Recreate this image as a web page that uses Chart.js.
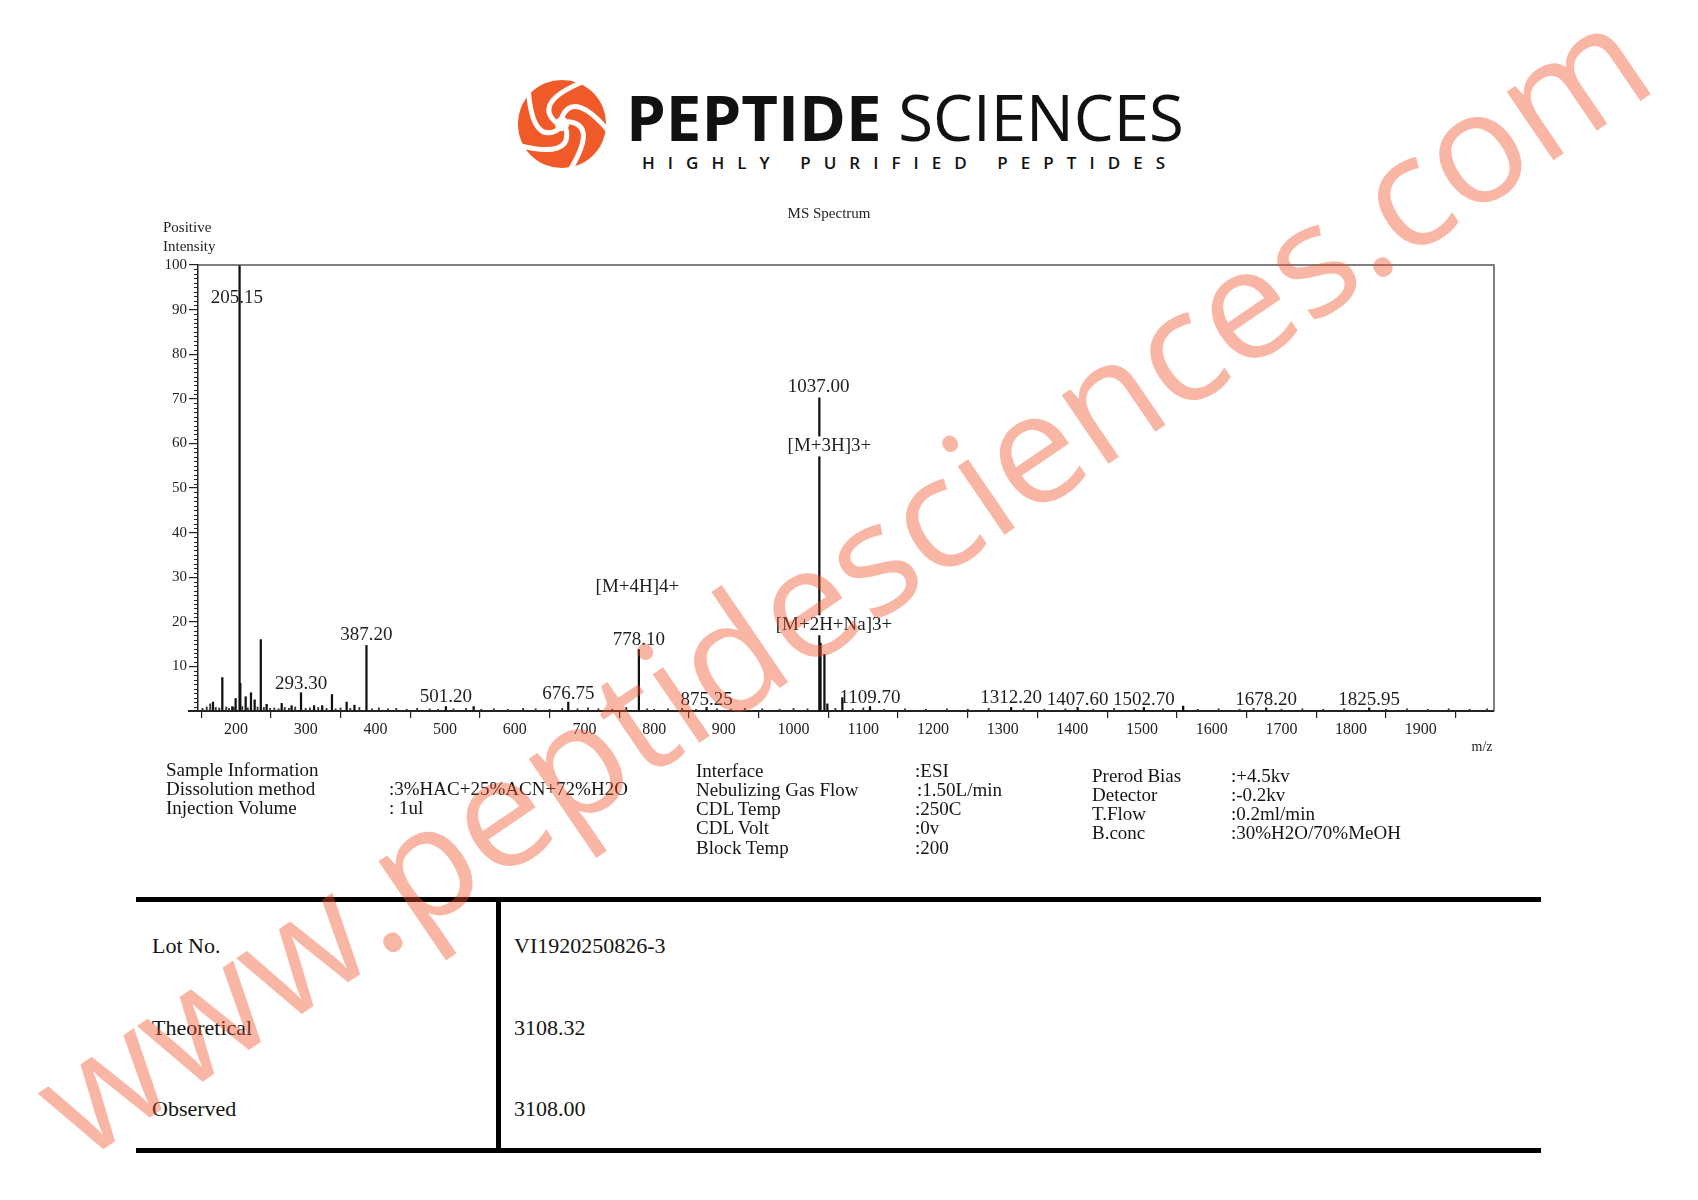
<!DOCTYPE html>
<html>
<head>
<meta charset="utf-8">
<script src="https://cdn.jsdelivr.net/npm/chart.js@4.4.1/dist/chart.umd.min.js"></script>
<style>
  html, body { margin: 0; padding: 0; background: #fff; }
  body { width: 1698px; height: 1200px; position: relative; overflow: hidden; }
  .t { position: absolute; white-space: pre; font-family: 'Liberation Serif', 'Times New Roman', serif; color: #151515; line-height: 20px; }
  .info { font-size: 19px; }
  .tab { font-size: 22px; line-height: 22px; }
  .rule { position: absolute; background: #000; }
  #wm { position: absolute; left: 848px; top: 590px; transform-origin: 0 0;
        transform: rotate(-34.3deg) translate(-50%, -50%) translateY(-18px);
        font-family: 'Open Sans', sans-serif; font-size: 155px; line-height: 155px;
        color: rgba(240, 80, 40, 0.42); white-space: pre; pointer-events: none; z-index: 10; }
</style>
</head>
<body>

<!-- logo -->
<svg style="position:absolute;left:517px;top:79px" width="90" height="90" viewBox="0 0 100 100">
  <circle cx="50" cy="50" r="49" fill="#f05a28"/>
  <g stroke="#fff" stroke-width="5.5" fill="none" stroke-linecap="round">
    <path d="M50 42 Q63.7 12.4 103.2 59.4" transform="rotate(0 50 50)"/>
    <path d="M50 42 Q63.7 12.4 103.2 59.4" transform="rotate(72 50 50)"/>
    <path d="M50 42 Q63.7 12.4 103.2 59.4" transform="rotate(144 50 50)"/>
    <path d="M50 42 Q63.7 12.4 103.2 59.4" transform="rotate(216 50 50)"/>
    <path d="M50 42 Q63.7 12.4 103.2 59.4" transform="rotate(288 50 50)"/>
  </g>
  <circle cx="50" cy="50" r="8" fill="#fff"/>
</svg>
<div style="position:absolute;left:626px;top:85px;font-family:'Open Sans',sans-serif;font-size:63.5px;line-height:63.5px;color:#111;white-space:pre"><span style="font-weight:700">PEPTIDE</span> SCIENCES</div>
<div style="position:absolute;left:642px;top:154px;font-family:'Open Sans',sans-serif;font-weight:600;font-size:17px;line-height:17px;letter-spacing:13.05px;color:#111;white-space:pre">HIGHLY PURIFIED PEPTIDES</div>

<!-- chart -->
<div style="position:absolute;left:100px;top:180px;width:1450px;height:600px">
  <canvas id="myChart" width="1450" height="600"></canvas>
</div>

<!-- sample information -->
<div class="t info" style="left:166px;top:760px">Sample Information</div>
<div class="t info" style="left:166px;top:779px">Dissolution method</div>
<div class="t info" style="left:166px;top:798px">Injection Volume</div>
<div class="t info" style="left:389px;top:779px">:3%HAC+25%ACN+72%H2O</div>
<div class="t info" style="left:389px;top:798px">: 1ul</div>

<div class="t info" style="left:696px;top:761px">Interface</div>
<div class="t info" style="left:696px;top:780px">Nebulizing Gas Flow</div>
<div class="t info" style="left:696px;top:799px">CDL Temp</div>
<div class="t info" style="left:696px;top:818px">CDL Volt</div>
<div class="t info" style="left:696px;top:838px">Block Temp</div>
<div class="t info" style="left:915px;top:761px">:ESI</div>
<div class="t info" style="left:917px;top:780px">:1.50L/min</div>
<div class="t info" style="left:915px;top:799px">:250C</div>
<div class="t info" style="left:915px;top:818px">:0v</div>
<div class="t info" style="left:915px;top:838px">:200</div>

<div class="t info" style="left:1092px;top:766px">Prerod Bias</div>
<div class="t info" style="left:1092px;top:785px">Detector</div>
<div class="t info" style="left:1092px;top:804px">T.Flow</div>
<div class="t info" style="left:1092px;top:823px">B.conc</div>
<div class="t info" style="left:1231px;top:766px">:+4.5kv</div>
<div class="t info" style="left:1231px;top:785px">:-0.2kv</div>
<div class="t info" style="left:1231px;top:804px">:0.2ml/min</div>
<div class="t info" style="left:1231px;top:823px">:30%H2O/70%MeOH</div>

<!-- result table -->
<div class="rule" style="left:136px;top:897px;width:1405px;height:5px"></div>
<div class="rule" style="left:136px;top:1148px;width:1405px;height:5px"></div>
<div class="rule" style="left:496px;top:897px;width:5px;height:256px"></div>
<div class="t tab" style="left:152px;top:935px">Lot No.</div>
<div class="t tab" style="left:152px;top:1017px">Theoretical</div>
<div class="t tab" style="left:152px;top:1098px">Observed</div>
<div class="t tab" style="left:514px;top:935px">VI1920250826-3</div>
<div class="t tab" style="left:514px;top:1017px">3108.32</div>
<div class="t tab" style="left:514px;top:1098px">3108.00</div>

<div id="wm">www.peptidesciences.com</div>

<script>
// peaks (m/z, relative intensity %)
let peakMz = [167.0, 180.4, 194.7, 199.5, 205.15, 206.2, 213.9, 221.5, 226.8, 235.6,
              244.0, 265.6, 279.8, 293.3, 312.0, 323.7, 337.7, 358.8, 370.0, 387.2,
              501.2, 541.0, 676.75, 778.1, 875.25, 1037.0, 1038.7, 1044.3, 1048.5, 1070.0,
              1109.7, 1312.2, 1407.6, 1502.7, 1559.0, 1678.2, 1825.95];
let peakInt = [2.0, 7.5, 1.0, 2.8, 100, 6.2, 3.2, 4.1, 2.5, 16.0,
               1.5, 1.7, 1.2, 4.1, 1.2, 1.2, 3.7, 2.0, 1.3, 14.7,
               1.0, 1.0, 2.0, 13.8, 0.8, 70.2, 15.2, 12.7, 1.6, 3.0,
               1.0, 0.8, 0.8, 0.8, 1.1, 0.7, 0.7];

// baseline noise
let noiseMz = [152, 158, 163, 171, 176, 186, 190, 197, 209, 217, 231, 240, 249, 255, 261, 270, 276, 285,
               300, 306, 318, 330, 343, 350, 364, 377, 395, 405, 418, 430, 445, 460, 478, 490, 512, 530,
               552, 570, 590, 612, 630, 650, 668, 690, 705, 720, 740, 760, 790, 800, 820, 840, 860, 890,
               910, 930, 955, 980, 1000, 1020, 1060, 1085, 1100, 1130, 1160, 1190, 1220, 1250, 1280, 1330,
               1360, 1390, 1430, 1460, 1490, 1530, 1580, 1610, 1640, 1660, 1700, 1730, 1760, 1790, 1850,
               1880, 1910, 1940, 1970, 1995];
let noiseInt = [0.6, 0.9, 1.6, 0.8, 0.7, 0.9, 0.6, 0.8, 1.0, 0.7, 0.9, 0.8, 0.6, 0.7, 0.5, 0.8, 0.6, 0.9,
                0.6, 0.7, 0.8, 0.6, 0.5, 0.7, 0.6, 0.8, 0.5, 0.7, 0.5, 0.6, 0.4, 0.6, 0.5, 0.4, 0.5, 0.6,
                0.4, 0.5, 0.4, 0.6, 0.5, 0.4, 0.6, 0.5, 0.7, 0.5, 0.4, 0.8, 0.5, 0.4, 0.5, 0.6, 0.4, 0.5,
                0.4, 0.6, 0.5, 0.4, 0.6, 0.5, 0.6, 0.5, 0.7, 0.4, 0.5, 0.4, 0.5, 0.4, 0.6, 0.5,
                0.4, 0.5, 0.4, 0.6, 0.4, 0.5, 0.4, 0.5, 0.4, 0.6, 0.4, 0.5, 0.4, 0.5, 0.4,
                0.5, 0.4, 0.5, 0.4, 0.5];

// annotations: text, m/z of the text centre, intensity at the text baseline, white box behind
let labelText  = ['205.15', '293.30', '387.20', '501.20', '676.75', '[M+4H]4+', '778.10', '875.25',
                  '1037.00', '[M+3H]3+', '[M+2H+Na]3+', '1109.70', '1312.20', '1407.60', '1502.70',
                  '1678.20', '1825.95'];
let labelMz    = [201.4, 293.3, 387.2, 501.2, 676.75, 776, 778.1, 875.25,
                  1036, 1051.5, 1058, 1109.7, 1312.2, 1407.6, 1502.7, 1678.2, 1825.95];
let labelLevel = [91.4, 5.0, 15.9, 2.1, 2.8, 26.6, 14.9, 1.3,
                  71.5, 58.2, 18.1, 1.7, 1.7, 1.3, 1.3, 1.3, 1.3];
let labelBox   = [false, false, false, false, false, false, false, false,
                  false, true, true, false, false, false, false, false, false];

let xTicks = [200, 300, 400, 500, 600, 700, 800, 900, 1000, 1100, 1200, 1300, 1400, 1500, 1600, 1700, 1800, 1900, 2000];
let yTicks = [0, 10, 20, 30, 40, 50, 60, 70, 80, 90, 100];

const serif = "'Liberation Serif', 'Times New Roman', serif";

const extras = {
  id: 'extras',
  afterDatasetsDraw(chart) {
    const { ctx, chartArea: a, scales: { x, y } } = chart;
    ctx.save();
    // frame top / right
    ctx.strokeStyle = '#555';
    ctx.lineWidth = 1.5;
    ctx.beginPath();
    ctx.moveTo(a.left, a.top);
    ctx.lineTo(a.right, a.top);
    ctx.lineTo(a.right, a.bottom);
    ctx.stroke();
    // axis line runs a little past the y axis
    ctx.strokeStyle = '#222';
    ctx.lineWidth = 2;
    ctx.beginPath();
    ctx.moveTo(a.left - 10, a.bottom);
    ctx.lineTo(a.left, a.bottom);
    ctx.stroke();
    // minor y ticks
    ctx.lineWidth = 1;
    ctx.beginPath();
    for (let v = 1; v < 100; v++) {
      if (v % 10 === 0) continue;
      const py = Math.round(y.getPixelForValue(v)) + 0.5;
      ctx.moveTo(a.left - 4, py);
      ctx.lineTo(a.left, py);
    }
    ctx.stroke();
    // peak annotations
    ctx.font = '19px ' + serif;
    ctx.textAlign = 'center';
    ctx.textBaseline = 'alphabetic';
    labelText.forEach((t, i) => {
      const px = x.getPixelForValue(labelMz[i]);
      const py = y.getPixelForValue(labelLevel[i]);
      if (labelBox[i]) {
        const w = ctx.measureText(t).width;
        ctx.fillStyle = '#fff';
        ctx.fillRect(px - w / 2 - 1, py - 15, w + 2, 20);
      }
      ctx.fillStyle = '#1e1e1e';
      ctx.fillText(t, px, py);
    });
    // titles
    ctx.font = '15px ' + serif;
    ctx.textAlign = 'left';
    ctx.textBaseline = 'middle';
    ctx.fillText('Positive', 63, 48);
    ctx.fillText('Intensity', 63, 67);
    ctx.textAlign = 'center';
    ctx.fillText('MS Spectrum', 729, 34);
    ctx.font = '14px ' + serif;
    ctx.fillText('m/z', 1382, 567);
    ctx.restore();
  }
};

let ctx = document.getElementById('myChart').getContext('2d');

let myChart = new Chart(ctx, {
  type: 'bar',
  data: {
    datasets: [
      {
        label: 'noise',
        data: noiseMz.map((m, i) => ({ x: m, y: noiseInt[i] })),
        backgroundColor: '#333',
        barThickness: 1.2,
        grouped: false
      },
      {
        label: 'peaks',
        data: peakMz.map((m, i) => ({ x: m, y: peakInt[i] })),
        backgroundColor: '#111',
        barThickness: 1.6,
        grouped: false
      }
    ]
  },
  options: {
    responsive: false,
    animation: false,
    devicePixelRatio: 1,
    layout: { padding: { left: 0, top: 85, right: 56, bottom: 0 } },
    plugins: { legend: { display: false }, tooltip: { enabled: false } },
    scales: {
      x: {
        type: 'linear',
        min: 145.5,
        max: 2005,
        offset: false,
        afterFit: s => { s.height = 69; },
        afterBuildTicks: s => { s.ticks = xTicks.map(v => ({ value: v })); },
        grid: { drawOnChartArea: false, tickLength: 7, color: '#222', lineWidth: 1.2 },
        border: { color: '#222', width: 2 },
        ticks: {
          font: { family: serif, size: 16 },
          color: '#222',
          padding: 2,
          maxRotation: 0,
          autoSkip: false,
          callback: v => (v >= 200 && v <= 1900 ? String(v) : '')
        }
      },
      y: {
        min: 0,
        max: 100,
        afterFit: s => { s.width = 98; },
        afterBuildTicks: s => { s.ticks = yTicks.map(v => ({ value: v })); },
        grid: { drawOnChartArea: false, tickLength: 9, color: '#222', lineWidth: 1.2 },
        border: { color: '#222', width: 1.5 },
        ticks: {
          font: { family: serif, size: 15 },
          color: '#222',
          padding: 2,
          callback: v => (v === 0 ? '' : String(v))
        }
      }
    }
  },
  plugins: [extras]
});
</script>
</body>
</html>
